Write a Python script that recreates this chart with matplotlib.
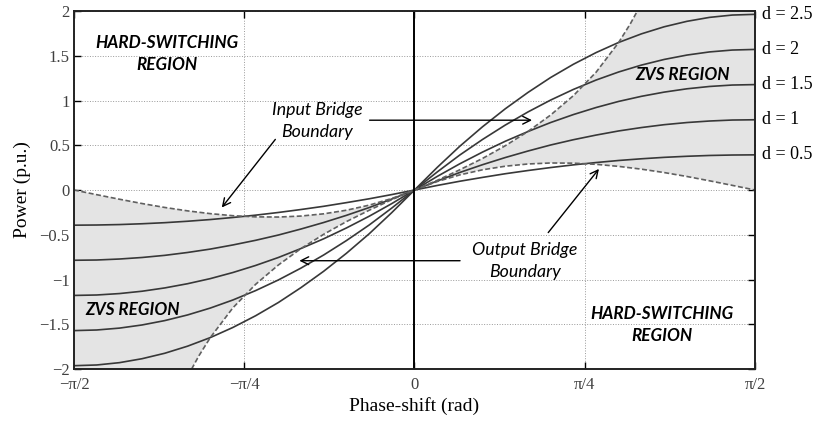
import numpy as np
import matplotlib.pyplot as plt

# phase-shift samples (rad) for the power curves, 0 .. pi/2 in pi/30 steps
phase = [0.0, 0.105, 0.209, 0.314, 0.419, 0.524, 0.628, 0.733,
         0.838, 0.942, 1.047, 1.152, 1.257, 1.361, 1.466, 1.571]

# transferred power (p.u.) for each voltage ratio d
power = {
    '0.5': [0.0, 0.051, 0.098, 0.141, 0.182, 0.218, 0.251, 0.281,
            0.307, 0.330, 0.349, 0.365, 0.377, 0.386, 0.391, 0.393],
    '1':   [0.0, 0.101, 0.196, 0.283, 0.363, 0.436, 0.503, 0.562,
            0.614, 0.660, 0.698, 0.730, 0.754, 0.771, 0.782, 0.785],
    '1.5': [0.0, 0.152, 0.293, 0.424, 0.545, 0.654, 0.754, 0.843,
            0.922, 0.990, 1.047, 1.094, 1.131, 1.157, 1.173, 1.178],
    '2':   [0.0, 0.202, 0.391, 0.565, 0.726, 0.873, 1.005, 1.124,
            1.229, 1.319, 1.396, 1.459, 1.508, 1.543, 1.564, 1.571],
    '2.5': [0.0, 0.253, 0.489, 0.707, 0.908, 1.091, 1.257, 1.405,
            1.536, 1.649, 1.745, 1.824, 1.885, 1.929, 1.955, 1.963],
}

# output bridge ZVS limit, same phase samples
bound_out = [0.0, 0.095, 0.169, 0.226, 0.266, 0.291, 0.302, 0.300,
             0.287, 0.264, 0.233, 0.195, 0.151, 0.103, 0.052, 0.0]

# input bridge ZVS limit (steep), up to the top of the plot
phase_in = [0.0, 0.105, 0.209, 0.314, 0.419, 0.524, 0.628, 0.733,
            0.838, 0.942, 0.995, 1.028]
bound_in = [0.0, 0.108, 0.226, 0.353, 0.495, 0.655, 0.838, 1.054,
            1.317, 1.649, 1.854, 2.0]

d_labels = ['2.5', '2', '1.5', '1', '0.5']


def odd(x, y):
    # power is odd in phase-shift: mirror the positive half
    x = np.asarray(x)
    y = np.asarray(y)
    return np.concatenate([-x[:0:-1], x]), np.concatenate([-y[:0:-1], y])


plt.rcParams['font.family'] = 'Liberation Serif'
fig = plt.figure(figsize=(8.14, 4.24), dpi=100)
ax = fig.add_axes([0.0909, 0.1297, 0.8366, 0.8443])

half = np.pi / 2
ymax = 2.0

# shaded ZVS regions between the two boundaries
px = np.concatenate([phase_in, [half, half], phase[::-1]])
py = np.concatenate([bound_in, [ymax, 0.0], bound_out[::-1]])
ax.fill(px, py, color='#e4e4e4', lw=0, zorder=1)
ax.fill(-px, -py, color='#e4e4e4', lw=0, zorder=1)

for d in d_labels:
    x, y = odd(phase, power[d])
    ax.plot(x, y, color='#383838', lw=1.2, zorder=3)
    ax.annotate('d = ' + d, xy=(half, power[d][-1]), xytext=(5, 0),
                textcoords='offset points', va='center', ha='left',
                fontsize=13, annotation_clip=False)

x, y = odd(phase, bound_out)
ax.plot(x, y, color='#606060', lw=1.2, ls=(0, (3, 1.5)), zorder=4)
x, y = odd(phase_in, bound_in)
ax.plot(x, y, color='#606060', lw=1.2, ls=(0, (3, 1.5)), zorder=4)

ax.axvline(0, color='black', lw=1.4, zorder=5)

# region and boundary labels
region_font = dict(family='Lato', weight='bold', style='italic', fontsize=12.3,
                   ha='center', va='center', linespacing=1.45, zorder=6)
ax.text(-1.14, 1.52, 'HARD-SWITCHING\nREGION', **region_font)
ax.text(1.14, -1.51, 'HARD-SWITCHING\nREGION', **region_font)
ax.text(1.236, 1.285, 'ZVS REGION', **region_font)
ax.text(-1.30, -1.34, 'ZVS REGION', **region_font)

note_font = dict(family='Lato', style='italic', fontsize=12.8,
                 ha='center', va='center', linespacing=1.45, zorder=6)
ax.text(-0.45, 0.77, 'Input Bridge\nBoundary', **note_font)
ax.text(0.51, -0.79, 'Output Bridge\nBoundary', **note_font)

arrow = dict(arrowstyle='->', color='black', lw=1.0, mutation_scale=14)
ax.annotate('', xy=(0.555, 0.78), xytext=(-0.22, 0.78), arrowprops=arrow, zorder=6)
ax.annotate('', xy=(-0.897, -0.22), xytext=(-0.634, 0.59), arrowprops=arrow, zorder=6)
ax.annotate('', xy=(-0.544, -0.79), xytext=(0.223, -0.79), arrowprops=arrow, zorder=6)
ax.annotate('', xy=(0.859, 0.26), xytext=(0.609, -0.50), arrowprops=arrow, zorder=6)

ax.set_xlim(-half, half)
ax.set_ylim(-2, 2)
ax.set_xticks([-half, -np.pi / 4, 0, np.pi / 4, half])
ax.set_xticklabels(['\u2212\u03c0/2', '\u2212\u03c0/4', '0', '\u03c0/4', '\u03c0/2'])
ax.set_yticks([-2, -1.5, -1, -0.5, 0, 0.5, 1, 1.5, 2])
ax.set_yticklabels(['\u22122', '\u22121.5', '\u22121', '\u22120.5', '0',
                    '0.5', '1', '1.5', '2'])
ax.tick_params(direction='in', length=5, width=1, top=True, right=True,
               labelsize=12, labelcolor='#404040', pad=3)
ax.tick_params(axis='x', pad=6)
ax.grid(True, color='#999999', ls=':', lw=0.7)
ax.set_axisbelow(True)
for s in ax.spines.values():
    s.set_linewidth(1.4)
    s.set_color('#222222')
    s.set_zorder(7)

ax.set_xlabel('Phase-shift (rad)', fontsize=14, labelpad=3)
ax.set_ylabel('Power (p.u.)', fontsize=14, labelpad=6)

fig.savefig('out.png', dpi=100)
